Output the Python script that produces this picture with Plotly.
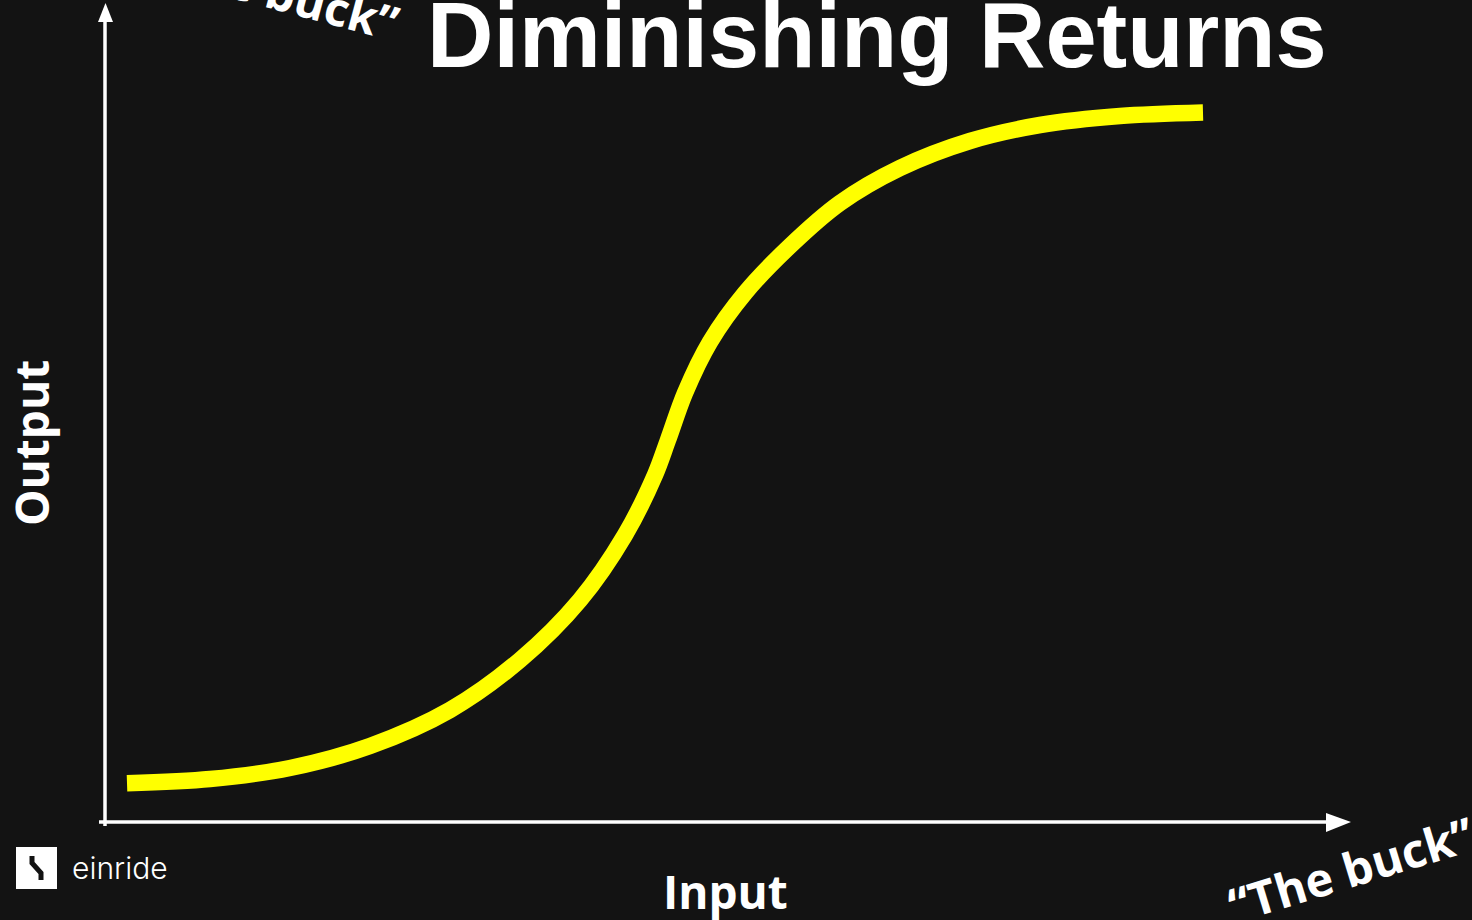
import plotly.graph_objects as go

input_values = [22, 105, 185, 265, 345, 415, 475, 520, 550, 563, 580, 605, 640, 685, 735, 795, 865, 935, 1015, 1098]
output_values = [38.7, 43, 54, 76, 112, 162, 222, 287, 347, 382, 429, 480, 529, 576, 619, 654, 681, 697, 706, 709.5]
title_text = "Diminishing Returns"
x_label = "Input"
y_label = "Output"
buck_label = "“The buck”"
brand = "einride"

BG = "#131313"
W, H = 1472, 920
X0, Y0 = 105, 822  # page position of the chart origin

fig = go.Figure()
fig.add_trace(go.Scatter(x=input_values, y=output_values, mode="lines",
                         line=dict(color="#ffff00", width=16.5, shape="spline", smoothing=0.9),
                         hoverinfo="skip", showlegend=False))

def px(x):
    return x / W
def py(y):
    return 1 - y / H

BOLD = dict(family="Open Sans", size=46, color="white", weight="bold")
BUCK = dict(family="Open Sans", size=47, color="white", weight="bold")
anns = [
    dict(text=title_text, x=px(877), y=py(35), font=dict(family="Liberation Sans", size=92, color="white", weight="bold")),
    dict(text=x_label, x=px(725.5), y=py(891), font=BOLD),
    dict(text=y_label, x=px(31), y=py(443), textangle=-90, font=BOLD),
    dict(text=buck_label, x=px(1351), y=py(869), textangle=-17, font=BUCK),
    dict(text=buck_label, x=px(275), y=py(-9), textangle=15, font=BUCK),
    dict(text=brand, x=px(120), y=py(868), font=dict(family="Inter", size=30, color="white", weight=300)),
]
for a in anns:
    a.update(xref="paper", yref="paper", xanchor="center", yanchor="middle", showarrow=False)

shapes = [
    dict(type="line", xref="paper", yref="paper", x0=px(105), x1=px(105), y0=py(826), y1=py(15), line=dict(color="white", width=3.5)),
    dict(type="line", xref="paper", yref="paper", x0=px(99), x1=px(1330), y0=py(822), y1=py(822), line=dict(color="white", width=3.5)),
    dict(type="path", xref="paper", yref="paper", path=f"M {px(98)} {py(22)} L {px(105.5)} {py(3)} L {px(113)} {py(22)} Z", fillcolor="white", line=dict(width=0)),
    dict(type="path", xref="paper", yref="paper", path=f"M {px(1326)} {py(813)} L {px(1351)} {py(822)} L {px(1326)} {py(832)} Z", fillcolor="white", line=dict(width=0)),
    dict(type="rect", xref="paper", yref="paper", x0=px(16), x1=px(57), y0=py(889), y1=py(847), fillcolor="white", line=dict(width=0)),
    dict(type="path", xref="paper", yref="paper", path=f"M {px(32)} {py(856)} L {px(32)} {py(863)} L {px(41)} {py(873)} L {px(41)} {py(880)}", line=dict(color=BG, width=5)),
]

fig.update_layout(
    width=W, height=H, autosize=False,
    paper_bgcolor=BG, plot_bgcolor=BG,
    margin=dict(l=0, r=0, t=0, b=0),
    xaxis=dict(range=[-X0, W - X0], visible=False),
    yaxis=dict(range=[Y0 - H, Y0], visible=False),
    annotations=anns, shapes=shapes, showlegend=False,
)
fig.write_html("out.html", config=dict(displayModeBar=False),
               post_script="document.body.style.margin='0';document.body.style.background='#131313';document.body.style.overflow='hidden';")
